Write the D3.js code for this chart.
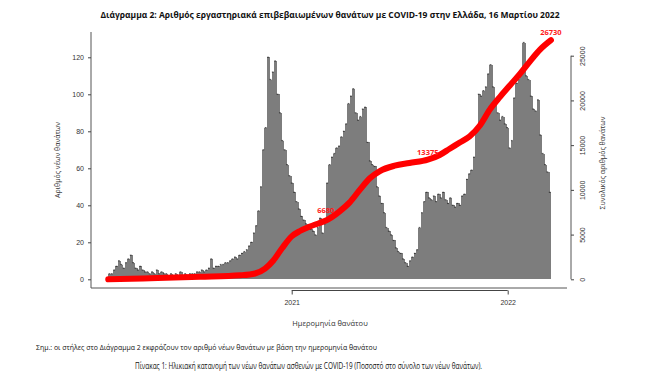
<!DOCTYPE html>
<html>
<head>
<meta charset="utf-8">
<script src="https://cdn.jsdelivr.net/npm/d3@7"></script>
<style>
  body { margin: 0; background: #fff; }
  svg { display: block; font-family: "Open Sans", "Noto Sans", sans-serif; }
</style>
</head>
<body>
<div id="chart"></div>
<script>
// Daily deaths, read every 4 days starting 2020-02-26
const startDate = "2020-02-26";
const stepDays = 4;
const dailyDeaths = [
    3, 3, 5, 7, 10, 8, 6, 9, 11, 13, 9, 6, 5, 7, 5, 4, 4, 3, 4, 3,
    5, 3, 4, 3, 3, 2, 3, 2, 3, 2, 4, 2, 3, 2, 3, 3, 3, 4, 4, 5,
    4, 5, 6, 11, 6, 7, 7, 8, 8, 9, 9, 10, 11, 12, 11, 13, 14, 15, 16, 18,
    20, 25, 29, 37, 50, 70, 82, 120, 108, 112, 118, 100, 90, 75, 70, 62, 56, 52, 47, 42,
    38, 34, 32, 30, 29, 27, 26, 24, 28, 33, 25, 30, 52, 62, 66, 68, 71, 72, 77, 80,
    84, 95, 99, 103, 90, 86, 88, 92, 93, 74, 64, 62, 61, 50, 45, 41, 36, 28, 26, 24,
    21, 17, 15, 14, 11, 9, 7, 10, 12, 14, 16, 28, 36, 42, 47, 44, 43, 45, 42, 46,
    44, 47, 43, 41, 44, 40, 39, 41, 40, 45, 46, 54, 57, 59, 66, 81, 100, 99, 102, 104,
    111, 116, 104, 95, 90, 86, 88, 84, 82, 71, 75, 98, 106, 108, 111, 128, 110, 108, 99, 92,
    91, 97, 78, 68, 62, 58, 47
];

// Cumulative deaths (red line)
const cumDates = [
    "2020-02-26", "2020-05-07", "2020-07-30", "2020-10-06", "2020-10-31", "2020-11-17",
    "2020-12-01", "2020-12-16", "2021-01-01", "2021-01-15", "2021-02-01", "2021-02-17",
    "2021-03-03", "2021-03-23", "2021-04-09", "2021-04-26", "2021-05-13", "2021-05-30",
    "2021-06-24", "2021-07-19", "2021-08-19", "2021-09-08", "2021-09-25", "2021-10-12",
    "2021-10-29", "2021-11-15", "2021-12-02", "2021-12-19", "2022-01-05", "2022-01-22",
    "2022-02-08", "2022-02-25", "2022-03-15"
];
const cumValues = [
    0, 120, 280, 450, 650, 1200,
    2100, 3500, 4800, 5400, 5900, 6300,
    6680, 7600, 8600, 10000, 11300, 12100,
    12700, 13000, 13375, 13900, 14600, 15300,
    16000, 17200, 19000, 20400, 21700, 23000,
    24400, 25700, 26730
];

// Labelled points on the cumulative line
const markDates = ["2021-03-03", "2021-08-19", "2022-03-15"];
const markValues = [6680, 13375, 26730];

const leftTicks = [0, 20, 40, 60, 80, 100, 120];
const rightTicks = [0, 5000, 10000, 15000, 20000, 25000];
const yearTicks = ["2021-01-01", "2022-01-01"];

const titleText = "Διάγραμμα 2: Αριθμός εργαστηριακά επιβεβαιωμένων θανάτων με COVID-19 στην Ελλάδα, 16 Μαρτίου 2022";
const noteText = "Σημ.: οι στήλες στο Διάγραμμα 2 εκφράζουν τον αριθμό νέων θανάτων με βάση την ημερομηνία θανάτου";
const tableText = "Πίνακας 1: Ηλικιακή κατανομή των νέων θανάτων ασθενών με COVID-19 (Ποσοστό στο σύνολο των νέων θανάτων).";

(function () {
    const width = 650, height = 384;
    const parse = d3.utcParse("%Y-%m-%d");

    // Plot frame
    const frame = { left: 91, right: 567, top: 32, bottom: 288 };

    const svg = d3.select("#chart").append("svg")
        .attr("width", width)
        .attr("height", height);

    // Scales
    const x = d3.scaleUtc()
        .domain([parse("2021-01-01"), parse("2022-01-01")])
        .range([291.7, 507.7]);
    const y = d3.scaleLinear().domain([0, 120]).range([279.3, 57.3]);
    const y2 = d3.scaleLinear().domain([0, 25000]).range([279.3, 55.7]);

    const start = parse(startDate);
    const bars = dailyDeaths.map((v, i) => ({
        d0: d3.utcDay.offset(start, i * stepDays),
        d1: d3.utcDay.offset(start, (i + 1) * stepDays),
        v: v
    }));

    // Bars (overlap a little so no white seams show)
    svg.append("g")
        .attr("shape-rendering", "crispEdges")
        .selectAll("rect")
        .data(bars)
        .enter()
        .append("rect")
        .attr("x", d => x(d.d0))
        .attr("y", d => y(d.v))
        .attr("width", (d, i) => x(d.d1) - x(d.d0) + (i < bars.length - 1 ? 1 : 0))
        .attr("height", d => y(0) - y(d.v))
        .attr("fill", "#7d7d7d");

    // Small dark value marks on top of the bars
    svg.append("g")
        .selectAll("rect")
        .data(bars)
        .enter()
        .append("rect")
        .attr("x", d => x(d.d0) + 0.3)
        .attr("y", d => y(d.v) - 0.6)
        .attr("width", 1.8)
        .attr("height", 1.2)
        .attr("fill", "#2a2a2a")
        .attr("opacity", 0.75);

    // Frame: left and bottom
    svg.append("path")
        .attr("d", `M${frame.left},${frame.top}V${frame.bottom}H${frame.right}`)
        .attr("fill", "none")
        .attr("stroke", "#555")
        .attr("stroke-width", 1);

    // Left axis
    const gLeft = svg.append("g")
        .attr("transform", `translate(${frame.left},0)`)
        .call(d3.axisLeft(y).tickValues(leftTicks).tickSize(3).tickPadding(4));
    gLeft.select(".domain").remove();
    gLeft.selectAll("line").attr("stroke", "#444");
    gLeft.selectAll("text")
        .attr("font-size", 7)
        .attr("fill", "#333");

    // Bottom axis (line only between the year ticks)
    const years = yearTicks.map(parse);
    const gBottom = svg.append("g")
        .attr("transform", "translate(0,290.5)")
        .call(d3.axisBottom(x).tickValues(years).tickSize(4).tickPadding(6)
            .tickFormat(d3.utcFormat("%Y")));
    gBottom.select(".domain").remove();
    gBottom.append("line")
        .attr("x1", x(years[0]))
        .attr("x2", x(years[1]))
        .attr("stroke", "#444");
    gBottom.selectAll("line").attr("stroke", "#444");
    gBottom.selectAll("text")
        .attr("font-size", 7)
        .attr("fill", "#333");

    // Right axis
    const gRight = svg.append("g")
        .attr("transform", "translate(571,0)")
        .call(d3.axisRight(y2).tickValues(rightTicks).tickSize(3).tickFormat(d3.format("d")));
    gRight.select(".domain")
        .attr("d", `M0,${y2(0)}V${y2(25000)}`)
        .attr("stroke", "#555");
    gRight.selectAll("line").attr("stroke", "#444");
    gRight.selectAll("text")
        .attr("font-size", 7)
        .attr("fill", "#333")
        .attr("x", 0)
        .attr("dy", null)
        .attr("text-anchor", "middle")
        .attr("transform", "translate(12,0) rotate(-90)")
        .attr("y", 0)
        .attr("dominant-baseline", "middle");

    // Cumulative line
    const line = d3.line()
        .x((d, i) => x(parse(cumDates[i])))
        .y(d => y2(d))
        .curve(d3.curveMonotoneX);

    svg.append("path")
        .datum(cumValues)
        .attr("d", line)
        .attr("fill", "none")
        .attr("stroke", "#ff0000")
        .attr("stroke-width", 6)
        .attr("stroke-linecap", "round")
        .attr("stroke-linejoin", "round");

    svg.append("g")
        .selectAll("text")
        .data(markValues)
        .enter()
        .append("text")
        .attr("x", (d, i) => x(parse(markDates[i])) - (i === 0 ? 2 : 0))
        .attr("y", (d, i) => y2(d) - (i === 0 ? 7 : 5))
        .attr("text-anchor", "middle")
        .attr("font-size", 7.5)
        .attr("font-weight", "bold")
        .attr("fill", "#ff1a1a")
        .text(d => d);

    // Titles
    svg.append("text")
        .attr("x", 330)
        .attr("y", 18)
        .attr("text-anchor", "middle")
        .attr("font-size", 9.5)
        .attr("font-weight", "bold")
        .attr("fill", "#111")
        .attr("textLength", 459)
        .attr("lengthAdjust", "spacingAndGlyphs")
        .text(titleText);

    svg.append("text")
        .attr("transform", "translate(60,160) rotate(-90)")
        .attr("text-anchor", "middle")
        .attr("font-size", 7)
        .attr("fill", "#333")
        .text("Αριθμός νέων θανάτων");

    svg.append("text")
        .attr("transform", "translate(605,163) rotate(-90)")
        .attr("text-anchor", "middle")
        .attr("font-size", 7)
        .attr("fill", "#333")
        .text("Συνολικός αριθμός θανάτων");

    svg.append("text")
        .attr("x", 330)
        .attr("y", 326)
        .attr("text-anchor", "middle")
        .attr("font-size", 7.5)
        .attr("fill", "#333")
        .text("Ημερομηνία θανάτου");

    svg.append("text")
        .attr("x", 36)
        .attr("y", 350)
        .attr("font-size", 7.5)
        .attr("fill", "#111")
        .attr("textLength", 341)
        .attr("lengthAdjust", "spacingAndGlyphs")
        .text(noteText);

    svg.append("text")
        .attr("x", 135)
        .attr("y", 369)
        .attr("font-size", 8.5)
        .attr("fill", "#111")
        .attr("textLength", 347)
        .attr("lengthAdjust", "spacingAndGlyphs")
        .text(tableText);
})();
</script>
</body>
</html>
